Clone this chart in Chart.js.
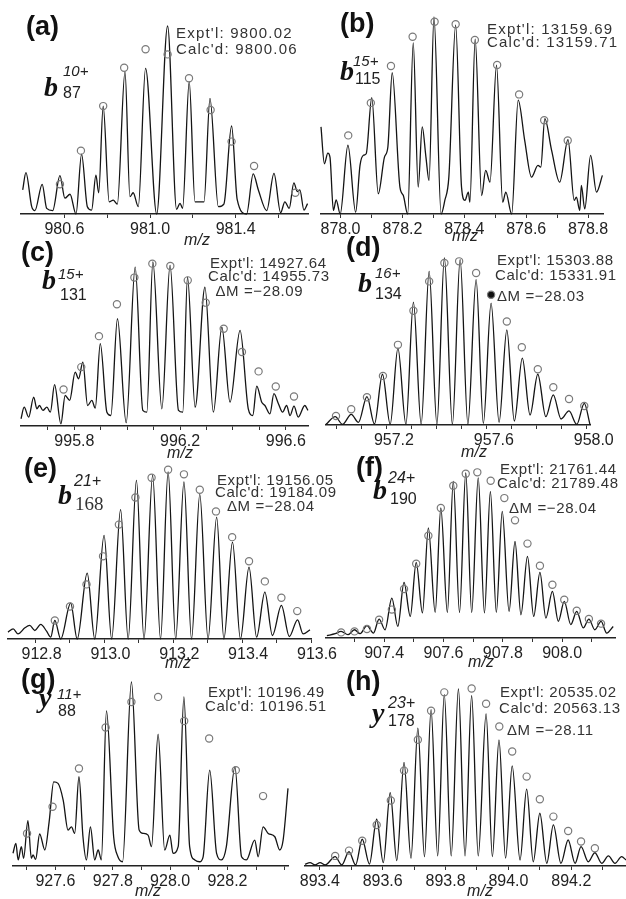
<!DOCTYPE html>
<html>
<head>
<meta charset="utf-8">
<script src="https://cdn.jsdelivr.net/npm/chart.js@4.4.1/dist/chart.umd.min.js"></script>
<style>
    html, body { margin: 0; padding: 0; background: #fff; overflow: hidden; }
    #fig { position: relative; width: 626px; height: 899px; overflow: hidden; }
    #fig canvas { position: absolute; }
    .t { position: absolute; white-space: nowrap; line-height: 1; color: #222;
         font-family: "Liberation Sans", Arial, sans-serif; }
</style>
</head>
<body>
<div id="fig"></div>
<script>
// ---- (a) b87 10+ ----
const mzA = [980.405, 980.420, 980.447, 980.462, 980.496, 980.517, 980.545, 980.579, 980.602, 980.626, 980.654, 980.680, 980.707, 980.727, 980.747, 980.760, 980.781, 980.809, 980.828, 980.847, 980.883, 980.906, 980.921, 980.945, 980.979, 981.031, 981.082, 981.124, 981.140, 981.152, 981.183, 981.210, 981.252, 981.280, 981.319, 981.345, 981.381, 981.407, 981.451, 981.482, 981.506, 981.545, 981.579, 981.610, 981.630, 981.650, 981.672, 981.688, 981.700, 981.719, 981.736];
const intA = [12.8, 22.0, 3.9, 1.8, 15.8, 3.0, 1.8, 20.4, 8.4, 10.5, 0, 31.9, 3.9, 2.1, 20.7, 11.3, 57.4, 6.5, 7.4, 5.3, 75.7, 9.2, 11.3, 3.9, 77.5, 0, 100, 2.5, 5.7, 3.0, 70.4, 6.5, 6.5, 61.5, 3.9, 5.3, 46.8, 7.8, 0, 21.3, 12.8, 1.8, 21.6, 0.7, 6.5, 3.0, 16.6, 11.9, 12.8, 2.1, 5.5];
const calcMzA = [980.579, 980.677, 980.781, 980.879, 980.979, 981.082, 981.182, 981.283, 981.381, 981.486, 981.679];
const calcIntA = [15.8, 33.7, 57.4, 77.8, 87.6, 84.9, 72.2, 55.3, 38.5, 25.5, 11.3];
const ticksA = [980.6, 980.8, 981.0, 981.2, 981.4, 981.6];
const labelsA = [980.6, 981.0, 981.4];

// ---- (b) b115 15+ ----
const mzB = [877.937, 877.948, 877.959, 877.966, 877.977, 877.986, 877.999, 878.024, 878.049, 878.063, 878.074, 878.083, 878.101, 878.122, 878.142, 878.153, 878.167, 878.192, 878.203, 878.217, 878.235, 878.251, 878.264, 878.276, 878.286, 878.302, 878.325, 878.337, 878.350, 878.372, 878.391, 878.402, 878.413, 878.418, 878.435, 878.456, 878.469, 878.483, 878.504, 878.524, 878.534, 878.553, 878.574, 878.595, 878.617, 878.638, 878.647, 878.660, 878.682, 878.708, 878.735, 878.755, 878.762, 878.773, 878.778, 878.789, 878.808, 878.827, 878.846];
const intB = [44.2, 25.5, 30.9, 28.9, 1.8, 7.2, 0, 34.9, 0.9, 24.7, 29.8, 30.6, 59.1, 10.3, 28.9, 34.0, 71.7, 13.6, 9.4, 0, 86.9, 13.6, 44.2, 28.9, 17.0, 100, 0, 6.9, 18.7, 95.9, 13.6, 6.9, 11.1, 6.0, 88.7, 9.4, 22.1, 16.2, 75.6, 6.0, 11.1, 0, 57.8, 37.4, 18.7, 24.7, 23.8, 48.4, 32.3, 16.2, 37.8, 6.9, 8.5, 1.8, 14.5, 2.6, 29.8, 11.1, 19.6];
const calcMzB = [878.025, 878.098, 878.163, 878.233, 878.304, 878.372, 878.434, 878.506, 878.577, 878.658, 878.734];
const calcIntB = [39.9, 56.4, 75.1, 90.0, 97.6, 96.3, 88.3, 75.6, 60.7, 47.6, 37.3];
const ticksB = [878.0, 878.1, 878.2, 878.3, 878.4, 878.5, 878.6, 878.7, 878.8];
const labelsB = [878.0, 878.2, 878.4, 878.6, 878.8];

// ---- (c) b131 15+ ----
const mzC = [995.598, 995.610, 995.627, 995.646, 995.658, 995.668, 995.681, 995.696, 995.709, 995.725, 995.749, 995.765, 995.782, 995.803, 995.816, 995.832, 995.850, 995.866, 995.879, 995.898, 995.923, 995.938, 995.963, 995.996, 996.030, 996.059, 996.074, 996.097, 996.131, 996.162, 996.194, 996.210, 996.228, 996.257, 996.294, 996.326, 996.358, 996.389, 996.427, 996.458, 996.475, 996.490, 996.509, 996.521, 996.540, 996.555, 996.572, 996.588, 996.603, 996.616, 996.631, 996.647, 996.672, 996.684];
const intC = [4.4, 11.5, 5.4, 17.6, 10.5, 12.5, 9.5, 11.5, 8.4, 25.2, 1.3, 18.6, 15.6, 32.8, 28.8, 39.0, 12.5, 15.6, 10.9, 50.2, 8.4, 6.4, 65.4, 2.0, 96.9, 9.5, 8.4, 100, 10.5, 98.0, 9.5, 8.4, 90.8, 11.5, 84.7, 8.4, 60.3, 14.5, 58.3, 10.5, 6.4, 24.3, 14.5, 12.5, 7.4, 19.7, 13.6, 8.4, 12.5, 6.4, 12.1, 5.4, 12.5, 9.5];
const calcMzC = [995.759, 995.826, 995.893, 995.961, 996.027, 996.095, 996.163, 996.229, 996.297, 996.365, 996.434, 996.497, 996.562, 996.631];
const calcIntC = [22.3, 35.9, 54.8, 74.2, 90.5, 99.0, 97.6, 88.8, 75.2, 59.3, 45.1, 33.3, 24.1, 18.0];
const ticksC = [995.7, 995.8, 995.9, 996.0, 996.1, 996.2, 996.3, 996.4, 996.5, 996.6];
const labelsC = [995.8, 996.2, 996.6];

// ---- (d) b134 16+ ----
const mzD = [956.956, 956.993, 957.022, 957.057, 957.086, 957.120, 957.150, 957.182, 957.213, 957.244, 957.276, 957.306, 957.337, 957.369, 957.400, 957.430, 957.462, 957.493, 957.524, 957.557, 957.586, 957.617, 957.649, 957.680, 957.710, 957.742, 957.773, 957.804, 957.836, 957.866, 957.897, 957.929, 957.960, 957.990, 958.013];
const intD = [0.4, 5.0, 0.4, 6.4, 1.6, 17.0, 0.6, 30.4, 0.4, 46.0, 0.4, 73.6, 0.4, 92.0, 0.4, 100, 0.4, 99.0, 0.6, 87.0, 1.0, 73.0, 1.6, 57.0, 2.4, 40.0, 6.0, 30.4, 5.0, 18.0, 3.6, 8.4, 0.4, 13.0, 0.4];
const calcMzD = [956.996, 957.057, 957.120, 957.184, 957.244, 957.306, 957.369, 957.430, 957.489, 957.557, 957.617, 957.680, 957.740, 957.804, 957.866, 957.929, 957.990];
const calcIntD = [5.4, 9.4, 16.6, 29.4, 48.0, 68.4, 86.0, 97.0, 98.0, 91.0, 78.0, 62.0, 46.6, 33.4, 22.6, 15.6, 11.4];
const ticksD = [957.0, 957.1, 957.2, 957.3, 957.4, 957.5, 957.6, 957.7, 957.8, 957.9, 958.0];
const labelsD = [957.2, 957.6, 958.0];

// ---- (e) b168 21+ ----
const mzE = [912.720, 912.735, 912.749, 912.769, 912.783, 912.798, 912.815, 912.832, 912.844, 912.856, 912.873, 912.902, 912.921, 912.950, 912.972, 912.999, 913.021, 913.047, 913.069, 913.093, 913.115, 913.140, 913.163, 913.185, 913.207, 913.231, 913.253, 913.277, 913.301, 913.326, 913.347, 913.372, 913.395, 913.420, 913.442, 913.466, 913.488, 913.514, 913.537, 913.561, 913.577, 913.597];
const intE = [4.1, 6.1, 3.1, 6.7, 8.1, 5.1, 8.7, 4.7, 1.1, 11.1, 0, 21.5, 0, 39.4, 0, 62.1, 0, 77.5, 0, 95.0, 0, 98.0, 0, 100, 0, 94.0, 0, 86.6, 0, 73.0, 0, 58.0, 0, 43.0, 1.1, 28.1, 2.1, 20.1, 1.5, 11.5, 3.1, 5.5];
const calcMzE = [912.856, 912.900, 912.948, 912.996, 913.042, 913.090, 913.137, 913.185, 913.231, 913.277, 913.324, 913.371, 913.420, 913.466, 913.514, 913.560];
const calcIntE = [11.1, 19.5, 32.7, 49.5, 68.5, 84.7, 96.6, 101.4, 98.6, 89.4, 76.4, 61.0, 46.6, 34.5, 24.7, 16.7];
const ticksE = [912.8, 912.9, 913.0, 913.1, 913.2, 913.3, 913.4, 913.5, 913.6];
const labelsE = [912.8, 913.0, 913.2, 913.4, 913.6];

// ---- (f) b190 24+ ----
const mzF = [907.207, 907.235, 907.255, 907.278, 907.300, 907.319, 907.342, 907.364, 907.383, 907.403, 907.426, 907.446, 907.467, 907.488, 907.508, 907.529, 907.549, 907.572, 907.591, 907.613, 907.633, 907.654, 907.675, 907.695, 907.717, 907.738, 907.758, 907.778, 907.798, 907.821, 907.841, 907.861, 907.883, 907.904, 907.925, 907.945, 907.967, 907.987, 908.007, 908.029, 908.049, 908.071, 908.090, 908.110, 908.131, 908.150, 908.172];
const intF = [1.4, 2.6, 4.0, 2.0, 5.0, 2.6, 7.5, 3.0, 11.5, 5.0, 24.2, 7.0, 33.7, 13.1, 45.8, 15.2, 66.7, 15.5, 78.8, 15.5, 94.9, 15.5, 100, 15.5, 97.0, 15.2, 88.8, 15.5, 76.7, 16.1, 58.5, 14.1, 49.5, 13.1, 39.8, 12.1, 28.2, 10.1, 22.2, 8.1, 16.1, 6.1, 11.5, 5.0, 10.1, 3.0, 7.0];
const calcMzF = [907.255, 907.300, 907.342, 907.383, 907.426, 907.467, 907.508, 907.549, 907.591, 907.633, 907.675, 907.714, 907.759, 907.805, 907.841, 907.883, 907.925, 907.967, 908.007, 908.049, 908.090, 908.131];
const calcIntF = [3.4, 4.0, 5.5, 11.1, 17.2, 29.7, 45.0, 62.0, 78.8, 92.3, 99.6, 100.4, 95.3, 84.8, 71.3, 57.2, 43.8, 32.3, 23.2, 16.5, 11.5, 8.7];
const ticksF = [907.3, 907.4, 907.5, 907.6, 907.7, 907.8, 907.9, 908.0, 908.1];
const labelsF = [907.4, 907.6, 907.8, 908.0];

// ---- (g) y88 11+ ----
const mzG = [927.452, 927.462, 927.470, 927.481, 927.489, 927.504, 927.516, 927.522, 927.531, 927.545, 927.563, 927.578, 927.594, 927.609, 927.627, 927.644, 927.656, 927.667, 927.682, 927.696, 927.708, 927.722, 927.737, 927.749, 927.760, 927.778, 927.803, 927.818, 927.834, 927.865, 927.892, 927.906, 927.923, 927.935, 927.958, 927.981, 927.999, 928.010, 928.028, 928.048, 928.068, 928.086, 928.103, 928.115, 928.138, 928.162, 928.179, 928.196, 928.226, 928.249, 928.266, 928.295, 928.307, 928.324, 928.342, 928.365, 928.382, 928.394, 928.411];
const intG = [6.9, 12.3, 3.3, 10.5, 4.2, 24.6, 4.2, 6.0, 3.6, 17.4, 8.7, 24.0, 45.7, 44.9, 35.8, 19.5, 21.3, 17.7, 48.5, 15.9, 3.3, 21.3, 3.3, 8.7, 3.3, 84.3, 15.9, 5.0, 2.3, 100, 19.5, 17.7, 16.8, 10.5, 71.6, 8.7, 16.8, 6.9, 10.5, 91.9, 10.5, 3.3, 2.3, 5.0, 52.1, 6.9, 3.3, 10.5, 53.9, 5.0, 3.3, 14.1, 5.0, 21.3, 17.7, 15.9, 8.7, 14.1, 42.2];
const calcMzG = [927.501, 927.590, 927.682, 927.775, 927.865, 927.958, 928.049, 928.136, 928.229, 928.324];
const calcIntG = [17.7, 32.2, 53.0, 75.3, 89.1, 91.9, 78.8, 69.3, 52.1, 38.0];
const ticksG = [927.5, 927.6, 927.7, 927.8, 927.9, 928.0, 928.1, 928.2, 928.3, 928.4];
const labelsG = [927.6, 927.8, 928.0, 928.2];

// ---- (h) y178 23+ ----
const mzH = [893.353, 893.369, 893.385, 893.401, 893.417, 893.449, 893.470, 893.493, 893.514, 893.535, 893.558, 893.581, 893.602, 893.624, 893.645, 893.668, 893.690, 893.712, 893.733, 893.754, 893.775, 893.796, 893.818, 893.841, 893.862, 893.883, 893.904, 893.929, 893.949, 893.970, 893.991, 894.012, 894.037, 894.058, 894.079, 894.100, 894.122, 894.143, 894.167, 894.190, 894.212, 894.231, 894.254, 894.275, 894.297, 894.318, 894.339, 894.360, 894.374];
const intH = [1.0, 1.9, 0.6, 1.9, 0.6, 5.3, 0.6, 8.1, 0.6, 15.1, 1.1, 26.4, 1.9, 41.5, 3.0, 58.5, 4.4, 77.9, 5.3, 88.3, 5.7, 96.8, 5.7, 100, 5.7, 96.2, 5.7, 86.0, 5.3, 71.3, 4.4, 56.6, 3.4, 43.4, 2.4, 29.8, 1.5, 23.2, 1.5, 14.7, 1.5, 10.9, 2.4, 7.5, 1.5, 5.7, 1.5, 5.3, 3.4];
const calcMzH = [893.449, 893.493, 893.535, 893.581, 893.626, 893.668, 893.712, 893.754, 893.796, 893.841, 893.883, 893.929, 893.971, 894.012, 894.058, 894.100, 894.143, 894.190, 894.231, 894.275];
const calcIntH = [5.7, 8.7, 14.3, 23.2, 37.0, 53.9, 71.3, 87.7, 98.1, 103.0, 100.3, 91.7, 78.8, 64.7, 50.5, 37.7, 27.9, 19.8, 13.8, 10.0];
const ticksH = [893.4, 893.5, 893.6, 893.7, 893.8, 893.9, 894.0, 894.1, 894.2, 894.3];
const labelsH = [893.4, 893.6, 893.8, 894.0, 894.2];

// panel placement on the page (pixels) and axis ranges
const panels = [
    { mz: mzA, inten: intA, cMz: calcMzA, cInt: calcIntA, ticks: ticksA, labels: labelsA, xMin: 980.397, xMax: 981.738, left: 21, right: 308, base: 214, top: 26, labelOffset: 0 },
    { mz: mzB, inten: intB, cMz: calcMzB, cInt: calcIntB, ticks: ticksB, labels: labelsB, xMin: 877.937, xMax: 878.848, left: 321, right: 603, base: 213.5, top: 17, labelOffset: 0 },
    { mz: mzC, inten: intC, cMz: calcMzC, cInt: calcIntC, ticks: ticksC, labels: labelsC, xMin: 995.598, xMax: 996.684, left: 21, right: 308, base: 425.5, top: 261.7, labelOffset: 0 },
    { mz: mzD, inten: intD, cMz: calcMzD, cInt: calcIntD, ticks: ticksD, labels: labelsD, xMin: 956.956, xMax: 958.013, left: 326, right: 590, base: 425, top: 258.3, labelOffset: 7, filled: 10 },
    { mz: mzE, inten: intE, cMz: calcMzE, cInt: calcIntE, ticks: ticksE, labels: labelsE, xMin: 912.720, xMax: 913.600, left: 8, right: 311, base: 638.5, top: 471.7, labelOffset: 6 },
    { mz: mzF, inten: intF, cMz: calcMzF, cInt: calcIntF, ticks: ticksF, labels: labelsF, xMin: 907.204, xMax: 908.178, left: 326, right: 615, base: 638.3, top: 473.3, labelOffset: 0 },
    { mz: mzG, inten: intG, cMz: calcMzG, cInt: calcIntG, ticks: ticksG, labels: labelsG, xMin: 927.452, xMax: 928.411, left: 13, right: 288, base: 866, top: 681.7, labelOffset: 0 },
    { mz: mzH, inten: intH, cMz: calcMzH, cInt: calcIntH, ticks: ticksH, labels: labelsH, xMin: 893.353, xMax: 894.374, left: 305, right: 626, base: 866, top: 689.3, labelOffset: 0 }
];

// text styles
const TAG = 'font-weight:bold;color:#111;';
const ION = 'font-family:"Liberation Serif",serif;font-weight:bold;font-style:italic;color:#111;';
const SERIF = 'font-family:"Liberation Serif",serif;color:#333;';
const ITAL = 'font-style:italic;';
const WIDE = 'letter-spacing:1.2px;color:#333;';   // panels a, b are set looser
const INFO = 'letter-spacing:0.6px;color:#333;';

// [text, left, baseline, size, style, centered]
const notes = [
    ['(a)', 26, 35.5, 27, TAG], ['b', 44, 97, 28, ION], ['10+', 63, 76, 15, ITAL], ['87', 63, 98.5, 16, ''],
    ["Expt'l: 9800.02", 176, 37.5, 15, WIDE], ["Calc'd: 9800.06", 176, 54, 15, WIDE],
    ['m/z', 197, 246, 16, ITAL, true],

    ['(b)', 340, 32.5, 27, TAG], ['b', 340, 80.5, 28, ION], ['15+', 353, 65.5, 15, ITAL], ['115', 355, 85, 16, ''],
    ["Expt'l: 13159.69", 487, 33.5, 15, WIDE], ["Calc'd: 13159.71", 487, 47, 15, WIDE],
    ['m/z', 465, 242, 16, ITAL, true],

    ['(c)', 21, 262, 27, TAG], ['b', 42, 290, 28, ION], ['15+', 58, 279, 15, ITAL], ['131', 60, 300.5, 16, ''],
    ["Expt'l: 14927.64", 210, 268, 15, INFO], ["Calc'd: 14955.73", 208, 281, 15, INFO], ['ΔM =−28.09', 215.5, 295.5, 15, INFO],
    ['m/z', 180, 459, 16, ITAL, true],

    ['(d)', 346, 257, 27, TAG], ['b', 358, 293, 28, ION], ['16+', 375, 278, 15, ITAL], ['134', 375, 299.5, 16, ''],
    ["Expt'l: 15303.88", 497, 264.5, 15, INFO], ["Calc'd: 15331.91", 495, 279.5, 15, INFO], ['ΔM =−28.03', 497, 300.5, 15, INFO],
    ['m/z', 474, 458, 16, ITAL, true],

    ['(e)', 24, 477.5, 27, TAG], ['b', 58, 505, 28, ION], ['21+', 74, 487, 16, ITAL], ['168', 75, 510, 19, SERIF],
    ["Expt'l: 19156.05", 217, 484.5, 15, INFO], ["Calc'd: 19184.09", 215, 497, 15, INFO], ['ΔM =−28.04', 227, 511, 15, INFO],
    ['m/z', 178, 669, 16, ITAL, true],

    ['(f)', 356, 477, 27, TAG], ['b', 373, 500, 28, ION], ['24+', 388, 484, 16, ITAL], ['190', 390, 505, 16, ''],
    ["Expt'l: 21761.44", 500, 474, 15, INFO], ["Calc'd: 21789.48", 497, 488, 15, INFO], ['ΔM =−28.04', 509, 512.5, 15, INFO],
    ['m/z', 481, 668, 16, ITAL, true],

    ['(g)', 21, 689, 27, TAG], ['y', 39, 708, 28, ION], ['11+', 57, 698.5, 15, ITAL], ['88', 58, 716.5, 16, ''],
    ["Expt'l: 10196.49", 208, 696.5, 15, INFO], ["Calc'd: 10196.51", 205, 711, 15, INFO],
    ['m/z', 148, 897, 16, ITAL, true],

    ['(h)', 346, 691, 27, TAG], ['y', 372, 723, 28, ION], ['23+', 388, 709, 16, ITAL], ['178', 388, 727, 16, ''],
    ["Expt'l: 20535.02", 500, 696.5, 15, INFO], ["Calc'd: 20563.13", 499, 712.5, 15, INFO], ['ΔM =−28.11', 507, 735, 15, INFO],
    ['m/z', 480, 897, 16, ITAL, true]
];

const fig = document.getElementById('fig');
const PAD_X = 40, PAD_TOP = 14, AXIS_H = 34;

function drawPanel(p) {
    const cv = document.createElement('canvas');
    const plotW = Math.round(p.right - p.left);
    const plotH = Math.round(p.base - p.top);
    const w = plotW + 2 * PAD_X;
    const h = plotH + PAD_TOP + AXIS_H;
    cv.width = w;
    cv.height = h;
    cv.style.width = w + 'px';
    cv.style.height = h + 'px';
    cv.style.left = Math.round(p.left - PAD_X) + 'px';
    cv.style.top = Math.round(p.top - PAD_TOP) + 'px';
    fig.appendChild(cv);

    const isLabel = v => p.labels.some(l => Math.abs(l - v) < 1e-6);

    new Chart(cv, {
        type: 'line',
        data: {
            datasets: [
                {
                    // calculated isotope pattern (open circles)
                    data: p.cMz.map((m, i) => ({ x: m, y: p.cInt[i] })),
                    showLine: false,
                    pointRadius: 3.6,
                    pointBorderWidth: 1.2,
                    pointBorderColor: '#7a7a7a',
                    pointBackgroundColor: p.cMz.map((m, i) => i === p.filled ? '#111' : 'rgba(0,0,0,0)'),
                    clip: false,
                    order: 0
                },
                {
                    // measured spectrum
                    data: p.mz.map((m, i) => ({ x: m, y: p.inten[i] })),
                    borderColor: '#141414',
                    borderWidth: 1.3,
                    pointRadius: 0,
                    cubicInterpolationMode: 'monotone',
                    fill: false,
                    clip: false,
                    order: 1
                }
            ]
        },
        options: {
            responsive: false,
            animation: false,
            events: [],
            layout: { padding: { left: PAD_X, right: PAD_X, top: PAD_TOP, bottom: 0 } },
            plugins: { legend: { display: false }, tooltip: { enabled: false } },
            scales: {
                x: {
                    type: 'linear',
                    min: p.xMin,
                    max: p.xMax,
                    afterFit: s => { s.height = AXIS_H; },
                    afterBuildTicks: s => { s.ticks = p.ticks.map(v => ({ value: v })); },
                    ticks: {
                        autoSkip: false,
                        maxRotation: 0,
                        padding: 2,
                        labelOffset: p.labelOffset,
                        color: '#222',
                        font: { family: "'Liberation Sans', Arial, sans-serif", size: 16 },
                        callback: v => isLabel(v) ? v.toFixed(1) : ''
                    },
                    grid: { drawOnChartArea: false, drawTicks: true, tickLength: 4, color: '#333', lineWidth: 1 },
                    border: { display: true, color: '#222', width: 1.5 }
                },
                y: { display: false, min: 0, max: 100 }
            }
        }
    });
}

function addText(n) {
    const [str, x, base, size, css, centered] = n;
    const el = document.createElement('div');
    el.className = 't';
    el.textContent = str;
    el.style.cssText = css || '';
    el.style.fontSize = size + 'px';
    el.style.left = x + 'px';
    el.style.top = (base - 0.85 * size) + 'px';
    if (centered) el.style.transform = 'translateX(-50%)';
    fig.appendChild(el);
}

panels.forEach(drawPanel);
notes.forEach(addText);
</script>
</body>
</html>
